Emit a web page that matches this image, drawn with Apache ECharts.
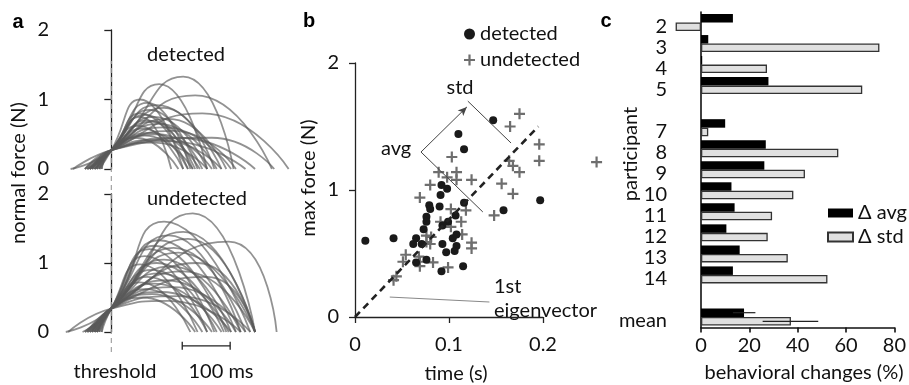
<!DOCTYPE html>
<html><head><meta charset="utf-8">
<script src="https://cdn.jsdelivr.net/npm/echarts@6/dist/echarts.min.js"></script>
<style>html,body{margin:0;padding:0;background:#fff}#c{width:909px;height:385px}</style>
</head><body><div id="c"></div>
<script>
// ---------- Panel a : force traces (ms from threshold, N) ----------
const thresholdDet = 0.27;
const thresholdUnd = 0.34;
// each trace: [start ms, peak time ms, peak force N, end ms]
const detCurves = [
  [-85,150,1.33,255],[-50,100,1.22,200],[-40,175,1.06,335],[-55,190,0.80,370],
  [-30,95,0.92,230],[-45,110,0.88,215],[-35,80,0.85,180],[-50,60,0.80,160],
  [-25,70,0.78,170],[-45,90,0.75,200],[-30,120,0.72,240],[-55,75,0.70,175],
  [-20,85,0.68,190],[-40,100,0.65,220],[-35,55,0.62,150],[-25,110,0.60,250],
  [-50,65,0.58,160],[-30,130,0.55,260],[-45,80,0.52,185],[-20,95,0.50,210],
  [-35,70,0.48,170],[-80,140,0.45,300],[-40,50,0.45,140],[-25,105,0.42,230],
  [-55,120,0.40,280],[-30,90,0.38,200],[-45,60,0.75,125],[-35,75,0.95,165],
  [-25,60,1.00,150],[-40,210,0.45,340]
];
const undCurves = [
  [-95,170,1.72,300],[-60,110,1.60,290],[-40,245,1.31,345],[-50,150,1.45,300],
  [-30,120,1.40,270],[-45,100,1.33,260],[-35,90,1.25,240],[-55,130,1.22,280],
  [-25,80,1.20,215],[-40,140,1.15,300],[-30,70,1.10,200],[-50,110,1.05,250],
  [-35,95,1.00,235],[-20,60,0.98,180],[-45,125,0.95,270],[-30,85,0.90,220],
  [-40,150,0.88,300],[-25,100,0.85,245],[-55,75,0.80,200],[-35,115,0.75,260],
  [-30,60,0.72,165],[-45,90,0.70,230],[-20,130,0.65,280],[-40,70,0.62,190],
  [-30,105,0.58,250],[-50,85,0.55,210],[-25,140,0.52,290],[-35,65,0.50,175],
  [-90,120,0.45,270],[-30,160,1.35,300],[-40,180,1.00,300],[-35,200,0.80,300]
];
const scaleBarMs = [148, 248];
const scaleBarLevel = -0.2;

// ---------- Panel b : max force vs time ----------
const bDetected = [
  [0.011,0.60],[0.041,0.62],[0.147,1.55],[0.110,1.44],[0.116,1.32],[0.092,1.04],
  [0.098,1.01],[0.091,0.96],[0.197,0.92],[0.116,0.90],[0.079,0.88],[0.080,0.85],
  [0.090,0.87],[0.158,0.84],[0.076,0.79],[0.076,0.75],[0.099,0.75],[0.093,0.72],
  [0.107,0.80],[0.073,0.69],[0.065,0.62],[0.062,0.575],[0.071,0.575],[0.093,0.575],
  [0.104,0.62],[0.108,0.65],[0.108,0.56],[0.097,0.51],[0.106,0.52],[0.065,0.43],
  [0.076,0.45],[0.092,0.36],[0.115,0.40]
];
const bUndetected = [
  [0.175,1.60],[0.165,1.50],[0.196,1.36],[0.196,1.23],[0.103,1.26],[0.164,1.23],
  [0.168,1.19],[0.175,1.14],[0.089,1.14],[0.108,1.14],[0.108,1.08],[0.124,1.08],
  [0.098,1.10],[0.080,1.04],[0.156,1.05],[0.168,0.97],[0.069,0.94],[0.257,1.22],
  [0.148,0.80],[0.102,0.85],[0.118,0.84],[0.091,0.75],[0.113,0.75],[0.102,0.71],
  [0.114,0.65],[0.124,0.585],[0.124,0.54],[0.076,0.64],[0.081,0.63],[0.080,0.575],
  [0.054,0.49],[0.051,0.435],[0.069,0.435],[0.069,0.40],[0.083,0.43],[0.099,0.39],
  [0.044,0.32],[0.041,0.29],[0.068,0.475],[0.076,0.59]
];
const bEigen = [[0,0],[0.195,1.5]];
const bAvgLine = [[0.0702,1.299],[0.136,0.827]];
const bStdArrow = [[0.0702,1.299],[0.119,1.654]];
const bStdLine = [[0.120,1.70],[0.166,1.37]];
const bEigenLeader = [[0.037,0.157],[0.143,0.118]];

// ---------- Panel c : behavioral changes ----------
const participants = ['2','3','4','5',' ','7','8','9','10','11','12','13','14','  ','mean'];
const deltaAvg = [13.2,3.0,0.5,27.9,null,10.0,26.8,26.2,12.6,13.9,10.5,16.0,13.2,null,17.8];
const deltaStd = [-10.5,73.8,27.3,66.7,null,3.0,56.8,43.0,38.2,29.4,27.6,35.9,52.3,null,37.2];
const meanErrAvg = [13.2,22.5];
const meanErrStd = [25.5,48.5];

const FONT = 'Lato, "Open Sans", sans-serif';
const FS = 20;
const ink = '#111';
const axisLineStyle = {color:'#222', width:1.3};

function traceSeries(curves, thr, gi){
  return curves.map(c => ({
    type:'line', xAxisIndex:gi, yAxisIndex:gi, smooth:0.55, showSymbol:false, silent:true,
    data:[[c[0],0],[0,thr],[c[1],c[2]],[c[3],0]],
    lineStyle:{color:'rgba(90,90,90,0.66)', width:1.8}, z:2
  }));
}

const aX = {type:'value', min:-105, max:400, show:false};
function aY(gi){
  return {type:'value', gridIndex:gi, min:0, max:2, interval:1,
    axisLine:{show:true, lineStyle:axisLineStyle}, axisTick:{show:true, length:7, lineStyle:axisLineStyle},
    axisLabel:{fontFamily:FONT, fontSize:FS, color:ink, margin:12}, splitLine:{show:false}};
}
const thin = {color:'#444', width:1, type:'solid'};

const option = {
  animation:false,
  backgroundColor:'#fff',
  grid:[
    {left:61, top:30, width:242, height:139},
    {left:61, top:194, width:242, height:138},
    {left:61, top:61, width:242, height:291},
    {left:355, top:63, width:188, height:254},
    {left:701, top:12, width:194.7, height:315.5}
  ],
  xAxis:[
    Object.assign({gridIndex:0}, aX),
    Object.assign({gridIndex:1}, aX),
    Object.assign({gridIndex:2}, aX),
    {type:'value', gridIndex:3, min:0, max:0.2, interval:0.1, offset:8,
      axisLine:{show:true, lineStyle:axisLineStyle}, axisTick:{show:true, length:6, lineStyle:axisLineStyle},
      axisLabel:{fontFamily:FONT, fontSize:FS, color:ink, margin:10}, splitLine:{show:false}},
    {type:'value', gridIndex:4, min:0, max:80, interval:20,
      axisLine:{show:true, lineStyle:{color:'#111', width:1.6}}, axisTick:{show:true, length:5, lineStyle:{color:'#111', width:1.6}},
      axisLabel:{fontFamily:FONT, fontSize:FS, color:ink, margin:8}, splitLine:{show:false}}
  ],
  yAxis:[
    aY(0), aY(1),
    {type:'value', gridIndex:2, min:0, max:1, show:false},
    {type:'value', gridIndex:3, min:0, max:2, interval:1, offset:4,
      axisLine:{show:true, lineStyle:axisLineStyle}, axisTick:{show:true, length:6, lineStyle:axisLineStyle},
      axisLabel:{fontFamily:FONT, fontSize:FS, color:ink, margin:12}, splitLine:{show:false}},
    {type:'category', gridIndex:4, data:participants, inverse:true,
      axisLine:{show:true, lineStyle:{color:'#111', width:1.6}}, axisTick:{show:false},
      axisLabel:{fontFamily:FONT, fontSize:FS, color:ink, margin:34, verticalAlign:'top', lineHeight:8, interval:0}, splitLine:{show:false}}
  ],
  legend:[
    {data:['detected','undetected'], orient:'vertical', left:459, top:19, itemWidth:11, itemHeight:11,
      itemGap:6, textStyle:{fontFamily:FONT, fontSize:FS, color:ink}, itemTextGap:8, selectedMode:false},
    {data:['\u0394 avg','\u0394 std'], orient:'vertical', left:822, top:198, itemWidth:25, itemHeight:9,
      itemGap:4, textStyle:{fontFamily:FONT, fontSize:FS, color:ink}, itemTextGap:8, selectedMode:false, icon:'rect'}
  ],
  graphic:[
    {type:'text', style:{text:'a', x:18, y:22, font:'bold 20px Arial, "Liberation Sans"', fill:'#000', textAlign:'center', textVerticalAlign:'middle'}},
    {type:'text', style:{text:'b', x:309, y:21, font:'bold 20px Arial, "Liberation Sans"', fill:'#000', textAlign:'center', textVerticalAlign:'middle'}},
    {type:'text', style:{text:'c', x:606, y:21, font:'bold 20px Arial, "Liberation Sans"', fill:'#000', textAlign:'center', textVerticalAlign:'middle'}},
    {type:'text', style:{text:'detected', x:186, y:55, font:FS+'px '+FONT, fill:ink, textAlign:'center', textVerticalAlign:'middle'}},
    {type:'text', style:{text:'undetected', x:197, y:199, font:FS+'px '+FONT, fill:ink, textAlign:'center', textVerticalAlign:'middle'}},
    {type:'text', x:19, y:173, rotation:Math.PI/2, style:{text:'normal force (N)', x:0, y:0, font:FS+'px '+FONT, fill:ink, textAlign:'center', textVerticalAlign:'middle'}},
    {type:'text', style:{text:'threshold', x:115, y:372, font:FS+'px '+FONT, fill:ink, textAlign:'center', textVerticalAlign:'middle'}},
    {type:'text', style:{text:'100 ms', x:221, y:372, font:FS+'px '+FONT, fill:ink, textAlign:'center', textVerticalAlign:'middle'}},
    {type:'text', x:309, y:178, rotation:Math.PI/2, style:{text:'max force (N)', x:0, y:0, font:FS+'px '+FONT, fill:ink, textAlign:'center', textVerticalAlign:'middle'}},
    {type:'text', style:{text:'time (s)', x:456, y:374, font:FS+'px '+FONT, fill:ink, textAlign:'center', textVerticalAlign:'middle'}},
    {type:'text', style:{text:'std', x:460, y:88, font:FS+'px '+FONT, fill:ink, textAlign:'center', textVerticalAlign:'middle'}},
    {type:'text', style:{text:'avg', x:396, y:149, font:FS+'px '+FONT, fill:ink, textAlign:'center', textVerticalAlign:'middle'}},
    {type:'text', style:{text:'1st', x:494, y:287, font:FS+'px '+FONT, fill:ink, textAlign:'left', textVerticalAlign:'middle'}},
    {type:'text', style:{text:'eigenvector', x:494, y:311, font:FS+'px '+FONT, fill:ink, textAlign:'left', textVerticalAlign:'middle'}},
    {type:'text', x:631, y:154, rotation:Math.PI/2, style:{text:'participant', x:0, y:0, font:FS+'px '+FONT, fill:ink, textAlign:'center', textVerticalAlign:'middle'}},
    {type:'text', style:{text:'behavioral changes (%)', x:804, y:373, font:FS+'px '+FONT, fill:ink, textAlign:'center', textVerticalAlign:'middle'}}
  ],
  series:[]
};

// panel a traces
option.series.push(...traceSeries(detCurves, thresholdDet, 0));
option.series.push(...traceSeries(undCurves, thresholdUnd, 1));
// threshold line
option.series.push({type:'line', xAxisIndex:2, yAxisIndex:2, data:[[0,0],[0,1]], showSymbol:false, silent:true,
  lineStyle:{color:'#999', width:1.1, type:[5,4]}, z:1});
// scale bar
option.series.push({type:'line', xAxisIndex:1, yAxisIndex:1, clip:false, silent:true,
  data:scaleBarMs.map(v => [v, scaleBarLevel]), symbol:'rect', symbolSize:[1.3,8], showSymbol:true,
  itemStyle:{color:'#222'}, lineStyle:{color:'#222', width:1.3}});

// panel b annotations
option.series.push({type:'line', name:'annot', xAxisIndex:3, yAxisIndex:3, data:[], clip:false, silent:true,
  markLine:{silent:true, symbol:'none', label:{show:false}, animation:false,
    data:[
      [{coord:bEigen[0], lineStyle:{color:'#222', width:2.6, type:[7,5]}}, {coord:bEigen[1]}],
      [{coord:bAvgLine[0], lineStyle:thin}, {coord:bAvgLine[1]}],
      [{coord:bStdArrow[0], lineStyle:thin}, {coord:bStdArrow[1], symbol:'arrow', symbolSize:[6,9]}],
      [{coord:bStdLine[0], lineStyle:thin}, {coord:bStdLine[1]}],
      [{coord:bEigenLeader[0], lineStyle:{color:'#888', width:1, type:'solid'}}, {coord:bEigenLeader[1]}]
    ]}});
option.series.push({type:'scatter', name:'undetected', xAxisIndex:3, yAxisIndex:3, clip:false,
  data:bUndetected, symbol:'path://M4,0H6V4H10V6H6V10H4V6H0V4H4Z', symbolSize:11,
  itemStyle:{color:'#6e6e6e', opacity:1}, z:3});
option.series.push({type:'scatter', name:'detected', xAxisIndex:3, yAxisIndex:3, clip:false,
  data:bDetected, symbol:'circle', symbolSize:8,
  itemStyle:{color:'#1a1a1a', opacity:1}, z:4});

// panel c
option.series.push({type:'bar', name:'\u0394 avg', xAxisIndex:4, yAxisIndex:4, data:deltaAvg, clip:false,
  barWidth:8.5, barGap:'0%', itemStyle:{color:'#000', borderColor:'#000', borderWidth:0}});
option.series.push({type:'bar', name:'\u0394 std', xAxisIndex:4, yAxisIndex:4, data:deltaStd, clip:false,
  barWidth:8.5, barGap:'0%', itemStyle:{color:'#e0e0e0', borderColor:'#333', borderWidth:1.3}});
const meanIdx = participants.indexOf('mean');
option.series.push({type:'custom', xAxisIndex:4, yAxisIndex:4, clip:false, silent:true, z:5,
  dimensions:['lo','hi','cat','side'], encode:{x:[0,1], y:2},
  data:[[meanErrAvg[0], meanErrAvg[1], meanIdx, -1],[meanErrStd[0], meanErrStd[1], meanIdx, 1]],
  renderItem:function(params, api){
    const a = api.coord([api.value(0), api.value(2)]);
    const b = api.coord([api.value(1), api.value(2)]);
    const off = api.value(3) * 4.3;
    return {type:'line', shape:{x1:a[0], y1:a[1]+off, x2:b[0], y2:b[1]+off}, style:{stroke:'#222', lineWidth:1.2}};
  }});

const chart = echarts.init(document.getElementById('c'), null, {renderer:'canvas'});
chart.setOption(option);
</script></body></html>
